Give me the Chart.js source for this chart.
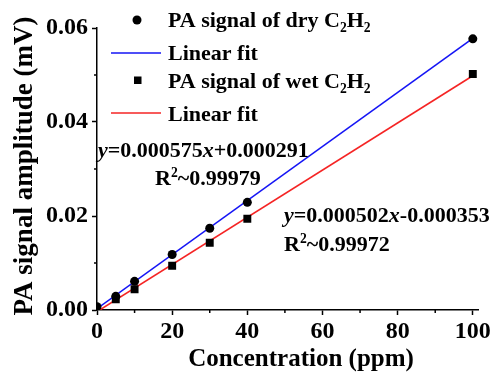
<!DOCTYPE html>
<html>
<head>
<meta charset="utf-8">
<script src="https://cdn.jsdelivr.net/npm/chart.js@4.4.1/dist/chart.umd.min.js"></script>
<style>
html, body { margin: 0; padding: 0; background: #fff; }
</style>
</head>
<body>
<canvas id="chart" width="493" height="372"></canvas>
<script>
"use strict";

// data
const concDry = [0, 5, 10, 20, 30, 40, 100];
const signalDry = [0.0007, 0.0029, 0.0061, 0.0118, 0.0174, 0.0229, 0.0577];
const concWet = [5, 10, 20, 30, 40, 100];
const signalWet = [0.0023, 0.0044, 0.0094, 0.0143, 0.0194, 0.0502];
const fitDry = [0.000575, 0.000291];   // slope, intercept
const fitWet = [0.000502, -0.000353];
const fitRange = [0, 100];
const xTicks = [0, 20, 40, 60, 80, 100];
const xMinor = [10, 30, 50, 70, 90];
const yTicks = [0, 0.02, 0.04, 0.06];
const yMinor = [0.01, 0.03, 0.05];

const FONT = '"Liberation Serif", "Times New Roman", serif';
const BLUE = '#1515f5';
const RED = '#f52424';
const TXT = 22;

function drawRich(ctx, parts, x, y, size) {
    let cx = x;
    parts.forEach((p) => {
        const s = (p.sub || p.sup) ? size * 0.62 : size;
        ctx.font = (p.it ? 'italic ' : '') + 'bold ' + s + 'px ' + FONT;
        const dy = p.sub ? size * 0.22 : (p.sup ? -size * 0.38 : 0);
        ctx.fillText(p.t, cx, y + dy);
        cx += ctx.measureText(p.t).width;
    });
}

const decorations = {
    id: 'decorations',
    afterDraw(chart) {
        const ctx = chart.ctx;
        const xs = chart.scales.x, ys = chart.scales.y;
        const area = chart.chartArea;
        ctx.save();
        // minor ticks
        ctx.strokeStyle = '#000';
        ctx.lineWidth = 1.5;
        xMinor.forEach((v) => {
            const px = xs.getPixelForValue(v);
            ctx.beginPath(); ctx.moveTo(px, area.bottom); ctx.lineTo(px, area.bottom + 3); ctx.stroke();
        });
        yMinor.forEach((v) => {
            const py = ys.getPixelForValue(v);
            ctx.beginPath(); ctx.moveTo(area.left, py); ctx.lineTo(area.left - 3, py); ctx.stroke();
        });

        ctx.fillStyle = '#000';
        ctx.textBaseline = 'alphabetic';
        ctx.textAlign = 'left';

        // legend
        ctx.beginPath(); ctx.arc(137, 20, 4.5, 0, Math.PI * 2); ctx.fill();
        drawRich(ctx, [{t: 'PA signal of dry C'}, {t: '2', sub: true}, {t: 'H'}, {t: '2', sub: true}], 168, 27, TXT);
        ctx.strokeStyle = BLUE; ctx.lineWidth = 1.6;
        ctx.beginPath(); ctx.moveTo(111, 53); ctx.lineTo(161, 53); ctx.stroke();
        drawRich(ctx, [{t: 'Linear fit'}], 168, 60, TXT);
        ctx.fillRect(134, 76.5, 7.5, 7.5);
        drawRich(ctx, [{t: 'PA signal of wet C'}, {t: '2', sub: true}, {t: 'H'}, {t: '2', sub: true}], 168, 88, TXT);
        ctx.strokeStyle = RED;
        ctx.beginPath(); ctx.moveTo(111, 113); ctx.lineTo(161, 113); ctx.stroke();
        drawRich(ctx, [{t: 'Linear fit'}], 168, 121, TXT);

        // fit equations
        drawRich(ctx, [{t: 'y', it: true}, {t: '=0.000575'}, {t: 'x', it: true}, {t: '+0.000291'}], 98, 157, TXT);
        drawRich(ctx, [{t: 'R'}, {t: '2', sup: true}, {t: '~0.99979'}], 155, 185, TXT);
        drawRich(ctx, [{t: 'y', it: true}, {t: '=0.000502'}, {t: 'x', it: true}, {t: '-0.000353'}], 284, 222, TXT);
        drawRich(ctx, [{t: 'R'}, {t: '2', sup: true}, {t: '~0.99972'}], 284, 251, TXT);

        // axis titles
        ctx.font = 'bold 25px ' + FONT;
        ctx.textAlign = 'center';
        ctx.fillText('Concentration (ppm)', 301, 366);
        ctx.translate(32, 166);
        ctx.rotate(-Math.PI / 2);
        ctx.font = 'bold 27px ' + FONT;
        ctx.fillText('PA signal amplitude (mV)', 0, 0);
        ctx.restore();
    }
};

const tickFont = { family: FONT, size: 24, weight: 'bold' };

new Chart(document.getElementById('chart').getContext('2d'), {
    type: 'scatter',
    data: {
        datasets: [
            {
                type: 'line',
                data: fitRange.map((x) => ({ x: x, y: fitDry[0] * x + fitDry[1] })),
                borderColor: BLUE,
                borderWidth: 1.6,
                pointRadius: 0,
                order: 3,
            },
            {
                type: 'line',
                data: fitRange.map((x) => ({ x: x, y: fitWet[0] * x + fitWet[1] })),
                borderColor: RED,
                borderWidth: 1.6,
                pointRadius: 0,
                order: 4,
            },
            {
                data: concDry.map((x, i) => ({ x: x, y: signalDry[i] })),
                pointStyle: 'circle',
                pointRadius: 4.5,
                backgroundColor: '#000',
                borderColor: '#000',
                borderWidth: 0,
                order: 1,
            },
            {
                data: concWet.map((x, i) => ({ x: x, y: signalWet[i] })),
                pointStyle: 'rect',
                pointRadius: 5.6,
                backgroundColor: '#000',
                borderColor: '#000',
                borderWidth: 0,
                order: 2,
            },
        ]
    },
    options: {
        responsive: false,
        animation: false,
        layout: { padding: { top: 28, right: 13, left: 0, bottom: 0 } },
        plugins: {
            legend: { display: false },
            tooltip: { enabled: false },
        },
        scales: {
            x: {
                type: 'linear',
                min: 0,
                max: 101.5,
                afterBuildTicks: (s) => { s.ticks = xTicks.map((v) => ({ value: v })); },
                afterFit: (s) => { s.height = 62; },
                grid: { drawOnChartArea: false, tickLength: 5, tickWidth: 1.5, tickColor: '#000' },
                border: { color: '#000', width: 1.5 },
                ticks: { font: tickFont, color: '#000', padding: 2, maxRotation: 0, autoSkip: false },
            },
            y: {
                type: 'linear',
                min: 0,
                max: 0.06,
                afterBuildTicks: (s) => { s.ticks = yTicks.map((v) => ({ value: v })); },
                afterFit: (s) => { s.width = 97; },
                grid: { drawOnChartArea: false, tickLength: 5, tickWidth: 1.5, tickColor: '#000' },
                border: { color: '#000', width: 1.5 },
                ticks: {
                    font: tickFont, color: '#000', padding: 4, autoSkip: false,
                    callback: (v) => v.toFixed(2),
                },
            },
        },
    },
    plugins: [decorations]
});
</script>
</body>
</html>
